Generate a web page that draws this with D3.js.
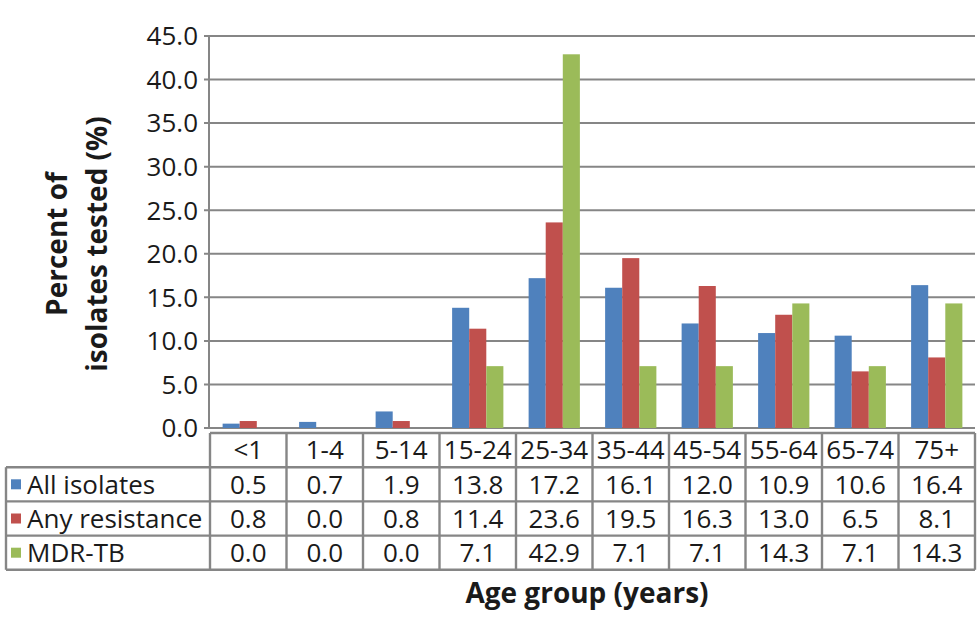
<!DOCTYPE html>
<html>
<head>
<meta charset="utf-8">
<script src="https://cdn.jsdelivr.net/npm/d3@7"></script>
<style>
  body { margin: 0; background: #fff; }
  svg text { font-family: "Open Sans", sans-serif; fill: #1a1a1a; }
</style>
</head>
<body>
<svg id="chart" width="980" height="631"></svg>
<script>
const ageGroups = ['<1', '1-4', '5-14', '15-24', '25-34', '35-44', '45-54', '55-64', '65-74', '75+'];
const seriesNames = ['All isolates', 'Any resistance', 'MDR-TB'];
const allIsolates = [0.5, 0.7, 1.9, 13.8, 17.2, 16.1, 12.0, 10.9, 10.6, 16.4];
const anyResistance = [0.8, 0.0, 0.8, 11.4, 23.6, 19.5, 16.3, 13.0, 6.5, 8.1];
const mdrTb = [0.0, 0.0, 0.0, 7.1, 42.9, 7.1, 7.1, 14.3, 7.1, 14.3];
const yTicks = [0, 5, 10, 15, 20, 25, 30, 35, 40, 45];
const colors = ['#4f81bd', '#c0504d', '#9bbb59'];

const series = [allIsolates, anyResistance, mdrTb];

const svg = d3.select('#chart');
const plotL = 210, plotR = 975, plotT = 36, plotB = 428;
const rowH = 34.2, tableTop = 433;
const gridColor = '#868686';
const fs = '26px';

const x = d3.scaleBand().domain(ageGroups).range([plotL, plotR]).paddingInner(0.33).paddingOuter(0.165);
const col = d3.scaleBand().domain(ageGroups).range([plotL, plotR]);
const xs = d3.scaleBand().domain(seriesNames).range([0, x.bandwidth()]);
const y = d3.scaleLinear().domain([0, 45]).range([plotB, plotT]);

// gridlines
svg.append('g').selectAll('line').data(yTicks).join('line')
  .attr('x1', plotL - 6).attr('x2', plotR)
  .attr('y1', d => y(d)).attr('y2', d => y(d))
  .attr('stroke', gridColor).attr('stroke-width', 2);

// y axis line
svg.append('line').attr('x1', plotL - 1).attr('x2', plotL - 1)
  .attr('y1', plotT).attr('y2', plotB)
  .attr('stroke', gridColor).attr('stroke-width', 2);

// y tick labels
svg.append('g').selectAll('text').data(yTicks).join('text')
  .attr('x', plotL - 12).attr('y', d => y(d))
  .attr('dy', '0.36em').attr('text-anchor', 'end')
  .style('font-size', fs)
  .text(d => d.toFixed(1));

// bars
series.forEach((vals, si) => {
  svg.append('g').selectAll('rect').data(vals).join('rect')
    .attr('x', (d, i) => x(ageGroups[i]) + xs(seriesNames[si]))
    .attr('width', xs.bandwidth())
    .attr('y', d => y(d))
    .attr('height', d => plotB - y(d))
    .attr('fill', colors[si]);
});

// data table
const tbl = svg.append('g');
const nRows = 4;
const tBottom = tableTop + rowH * nRows;
tbl.append('g').selectAll('line').data(d3.range(nRows + 1)).join('line')
  .attr('x1', d => d === 0 ? plotL : 6).attr('x2', plotR)
  .attr('y1', d => tableTop + d * rowH).attr('y2', d => tableTop + d * rowH)
  .attr('stroke', gridColor).attr('stroke-width', 2.4);
tbl.append('g').selectAll('line').data(d3.range(ageGroups.length + 1)).join('line')
  .attr('x1', d => plotL + d * col.bandwidth()).attr('x2', d => plotL + d * col.bandwidth())
  .attr('y1', tableTop).attr('y2', tBottom)
  .attr('stroke', gridColor).attr('stroke-width', 2.4);
tbl.append('line').attr('x1', 6).attr('x2', 6)
  .attr('y1', tableTop + rowH).attr('y2', tBottom)
  .attr('stroke', gridColor).attr('stroke-width', 2.4);

// header labels
tbl.append('g').selectAll('text').data(ageGroups).join('text')
  .attr('x', d => col(d) + col.bandwidth() / 2)
  .attr('y', tableTop + rowH / 2).attr('dy', '0.36em')
  .attr('text-anchor', 'middle').style('font-size', fs)
  .text(d => d);

// values + legend keys
series.forEach((vals, si) => {
  const ry = tableTop + rowH * (si + 1) + rowH / 2;
  tbl.append('g').selectAll('text').data(vals).join('text')
    .attr('x', (d, i) => col(ageGroups[i]) + col.bandwidth() / 2)
    .attr('y', ry).attr('dy', '0.36em')
    .attr('text-anchor', 'middle').style('font-size', fs)
    .text(d => d.toFixed(1));
  tbl.append('rect').attr('x', 11).attr('y', ry - 5).attr('width', 10).attr('height', 10)
    .attr('fill', colors[si]);
  tbl.append('text').attr('x', 27).attr('y', ry).attr('dy', '0.36em')
    .style('font-size', fs).text(seriesNames[si]);
});

// axis titles
const midY = 244;
svg.append('text')
  .attr('transform', 'translate(67,' + midY + ') rotate(-90)')
  .attr('text-anchor', 'middle').style('font-size', '28px').style('font-weight', 'bold')
  .text('Percent of');
svg.append('text')
  .attr('transform', 'translate(107,' + midY + ') rotate(-90)')
  .attr('text-anchor', 'middle').style('font-size', '28px').style('font-weight', 'bold')
  .text('isolates tested (%)');
svg.append('text')
  .attr('x', 587).attr('y', 603)
  .attr('text-anchor', 'middle').style('font-size', '28px').style('font-weight', 'bold')
  .text('Age group (years)');
</script>
</body>
</html>
